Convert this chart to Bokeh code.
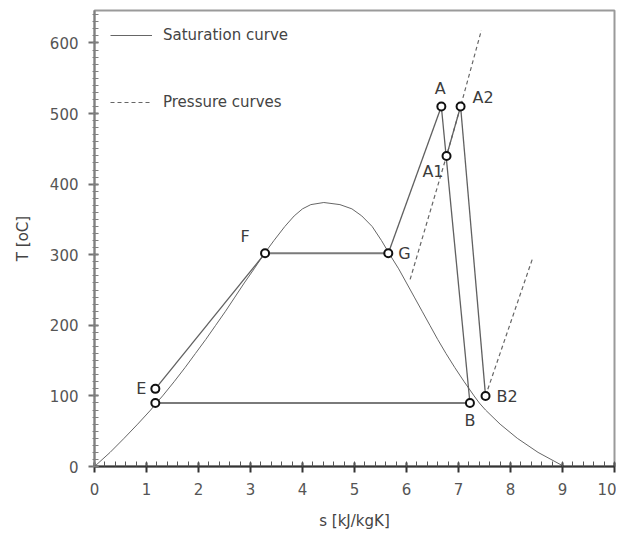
from bokeh.plotting import figure
from bokeh.models import Range1d, Legend, LegendItem, FixedTicker, ColumnDataSource
from bokeh.core.properties import value
from bokeh.embed import file_html
from bokeh.resources import INLINE

# ---------------- data ----------------
# saturation curve (T in degC, s in kJ/kgK), liquid branch and vapour branch
sat_T = [0, 20, 40, 60, 80, 90, 100, 120, 140, 160, 180, 200, 220, 240, 260, 280, 300, 320, 340, 355, 365, 371, 374]
sat_s_liq = [0.0, 0.30, 0.57, 0.83, 1.08, 1.19, 1.31, 1.53, 1.74, 1.94, 2.14, 2.33, 2.52, 2.70, 2.88, 3.07, 3.25, 3.45, 3.66, 3.84, 4.00, 4.16, 4.41]
sat_s_vap = [9.03, 8.53, 8.13, 7.80, 7.52, 7.40, 7.30, 7.11, 6.93, 6.76, 6.60, 6.45, 6.30, 6.15, 6.00, 5.85, 5.68, 5.52, 5.34, 5.14, 4.95, 4.72, 4.41]

# state points
pt_names = ["E", "D", "F", "G", "A", "A1", "A2", "B", "B2"]
pt_s = [1.17, 1.17, 3.28, 5.65, 6.67, 6.77, 7.04, 7.22, 7.52]
pt_T = [110, 90, 302, 302, 510, 440, 510, 90, 100]
pt_labels = ["E", "", "F", "G", "A", "A1", "A2", "B", "B2"]

# process lines between state points
process_thin = [("E", "F"), ("G", "A"), ("A", "B"), ("A1", "A2"), ("A2", "B2")]
process_thick = [("D", "B"), ("F", "G")]

# pressure curves (dashed)
reheat_s = [6.07, 6.77, 7.04, 7.44]
reheat_T = [265, 440, 510, 618]
cond_s = [7.52, 8.43]
cond_T = [100, 296]

x_ticks = [0, 1, 2, 3, 4, 5, 6, 7, 8, 9, 10]
y_ticks = [0, 100, 200, 300, 400, 500, 600]

# ---------------- styles ----------------
FONT = "DejaVu Sans"
TXT = "#3c3c3c"
label_style = {
    "E": ("right", -9, 0),
    "F": ("center", -20, -17),
    "G": ("left", 10, 0),
    "A": ("center", -1, -18),
    "A1": ("right", -3, 16),
    "A2": ("left", 12, -9),
    "B": ("center", 0, 18),
    "B2": ("left", 11, 1),
}

p = figure(width=616, height=532, output_backend="svg", toolbar_location=None,
           x_range=Range1d(0, 10), y_range=Range1d(0, 646),
           min_border_left=94, min_border_right=2, min_border_top=10, min_border_bottom=65)
p.grid.visible = False
p.outline_line_color = "#9a9a9a"
p.outline_line_width = 2
p.background_fill_color = "white"
p.border_fill_color = "white"

# axes
p.xaxis.ticker = FixedTicker(ticks=x_ticks, minor_ticks=[i * 0.2 for i in range(51)])
p.yaxis.ticker = FixedTicker(ticks=y_ticks, minor_ticks=[i * 10 for i in range(65)])
for ax in (p.xaxis[0], p.yaxis[0]):
    ax.major_label_text_font = FONT
    ax.major_label_text_font_size = "15px"
    ax.major_label_text_color = "#555555"
    ax.axis_label_text_font = FONT
    ax.axis_label_text_font_size = "15px"
    ax.axis_label_text_font_style = "normal"
    ax.axis_label_text_color = "#444444"
    ax.major_label_standoff = 10
    ax.major_tick_out = 6
    ax.major_tick_in = 4
    ax.major_tick_line_width = 2
    ax.minor_tick_line_width = 1

p.xaxis.axis_label = "s [kJ/kgK]"
p.yaxis.axis_label = "T [oC]"
p.xaxis.axis_line_color = "#333333"
p.xaxis.axis_line_width = 2
p.xaxis.major_tick_line_color = "#333333"
p.xaxis.minor_tick_line_color = "#555555"
p.xaxis.minor_tick_in = 5
p.xaxis.minor_tick_out = 0
p.xaxis.axis_label_standoff = 14
p.yaxis.axis_line_color = "#808080"
p.yaxis.axis_line_width = 2
p.yaxis.major_tick_line_color = "#707070"
p.yaxis.minor_tick_line_color = "#808080"
p.yaxis.minor_tick_in = 4
p.yaxis.minor_tick_out = 2
p.yaxis.axis_label_standoff = 15

# saturation curve
sat_s = sat_s_liq + sat_s_vap[::-1]
sat_t = sat_T + sat_T[::-1]
r_sat = p.line(sat_s, sat_t, line_color="#666666", line_width=1)

# pressure curves
r_p1 = p.line(reheat_s, reheat_T, line_color="#666666", line_width=1.2, line_dash="4 3")
p.line(cond_s, cond_T, line_color="#666666", line_width=1.2, line_dash="4 3")

# process lines
idx = {n: i for i, n in enumerate(pt_names)}
for a, b in process_thin:
    p.line([pt_s[idx[a]], pt_s[idx[b]]], [pt_T[idx[a]], pt_T[idx[b]]],
           line_color="#606060", line_width=1.3)
for a, b in process_thick:
    p.line([pt_s[idx[a]], pt_s[idx[b]]], [pt_T[idx[a]], pt_T[idx[b]]],
           line_color="#7a7a7a", line_width=2)

# state point markers
p.scatter(pt_s, pt_T, size=8, marker="circle", fill_color="white",
          line_color="#111111", line_width=2)

# state labels
for align in ("left", "center", "right"):
    xs, ys, ts, xo, yo = [], [], [], [], []
    for n, lab in zip(pt_names, pt_labels):
        if not lab:
            continue
        st = label_style[lab]
        if st[0] != align:
            continue
        xs.append(pt_s[idx[n]]); ys.append(pt_T[idx[n]]); ts.append(lab)
        xo.append(st[1]); yo.append(st[2])
    if xs:
        src = ColumnDataSource(dict(x=xs, y=ys, t=ts, xo=xo, yo=yo))
        p.text(x="x", y="y", text="t", x_offset="xo", y_offset="yo", source=src,
               text_align=align, text_baseline="middle", text_font=value(FONT),
               text_font_size="16px", text_color=TXT)

# legend
legend = Legend(items=[LegendItem(label="Saturation curve", renderers=[r_sat]),
                       LegendItem(label="Pressure curves", renderers=[r_p1])],
                location="top_left", background_fill_alpha=0, border_line_alpha=0,
                margin=8, padding=8, glyph_width=42, glyph_height=18,
                label_standoff=11, spacing=49,
                label_text_font=FONT, label_text_font_size="15px", label_text_color="#444444")
p.add_layout(legend)

open("out.html", "w").write(file_html(p, INLINE))
